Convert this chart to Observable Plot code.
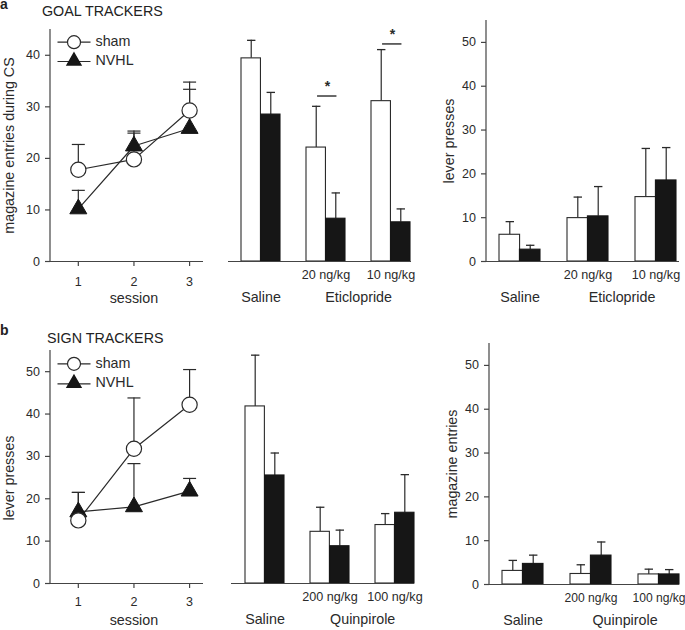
<!DOCTYPE html>
<html>
<head>
<meta charset="utf-8">
<script src="https://cdn.jsdelivr.net/npm/d3@7"></script>
<script src="https://cdn.jsdelivr.net/npm/@observablehq/plot@0.6"></script>
<style>
  body { margin: 0; background: #fff; }
  #root { position: relative; width: 685px; height: 630px; overflow: hidden;
          font-family: "Liberation Sans", Arial, Helvetica, sans-serif; color: #222; }
  .panel { position: absolute; }
  .lbl { position: absolute; white-space: nowrap; line-height: 1; }
</style>
</head>
<body>
<div id="root"></div>
<script>
// ---------------- DATA ----------------
const sessions = [1, 2, 3];
const groupNames = ["sham", "NVHL"];

// (a) Goal trackers – magazine entries during CS, by session (mean and mean+SEM)
const gtShamMean = [17.8, 19.8, 29.3];
const gtShamTop  = [22.7, 24.9, 34.8];
const gtNvhlMean = [10.2, 22.4, 25.8];
const gtNvhlTop  = [13.8, 25.3, 33.4];

// (a) Eticlopride – magazine entries
const eticGroups = ["Saline", "20 ng/kg", "10 ng/kg"];
const eticTickLabels = ["", "20 ng/kg", "10 ng/kg"];
const eticDrugLabels = ["Saline", "Eticlopride"];
const gtMagSham    = [39.4, 22.1, 31.1];
const gtMagShamTop = [42.9, 30.1, 41.1];
const gtMagNvhl    = [28.5, 8.3, 7.6];
const gtMagNvhlTop = [32.8, 13.3, 10.2];
const gtMagSigLevel = [null, 32.1, 42.2];

// (a) Eticlopride – lever presses
const gtLevSham    = [6.1, 9.9, 14.7];
const gtLevShamTop = [9.1, 14.7, 25.8];
const gtLevNvhl    = [2.7, 10.3, 18.5];
const gtLevNvhlTop = [3.7, 17.1, 26.0];

// (b) Sign trackers – lever presses by session
const stShamMean = [14.9, 31.8, 42.2];
const stShamTop  = [21.5, 43.8, 50.5];
const stNvhlMean = [16.9, 18.1, 21.8];
const stNvhlTop  = [21.5, 28.3, 24.8];

// (b) Quinpirole – lever presses
const quinGroups = ["Saline", "200 ng/kg", "100 ng/kg"];
const quinTickLabels = ["", "200 ng/kg", "100 ng/kg"];
const quinDrugLabels = ["Saline", "Quinpirole"];
const stLevSham    = [41.8, 12.2, 13.8];
const stLevShamTop = [53.9, 18.0, 16.5];
const stLevNvhl    = [25.5, 8.8, 16.7];
const stLevNvhlTop = [30.8, 12.6, 25.7];

// (b) Quinpirole – magazine entries
const stMagSham    = [3.1, 2.4, 2.3];
const stMagShamTop = [5.5, 4.5, 3.5];
const stMagNvhl    = [4.7, 6.6, 2.3];
const stMagNvhlTop = [6.7, 9.7, 3.4];

const ticks45 = [0, 10, 20, 30, 40];
const ticks55 = [0, 10, 20, 30, 40, 50];

// ---------------- STYLE ----------------
const FONT = '"Liberation Sans", Arial, Helvetica, sans-serif';
const INK = "#2a2a2a";
const AX = "#444";
const BLACK = "#161616";
const LABEL_SIZE = 14.3;

const capSymbol = {
  draw(ctx, size) { const r = Math.sqrt(size / Math.PI); ctx.moveTo(-r, 0); ctx.lineTo(r, 0); }
};

function leftAxisLine(index, scales, values, dimensions) {
  const {marginLeft, marginTop, height, marginBottom} = dimensions;
  const l = document.createElementNS("http://www.w3.org/2000/svg", "line");
  l.setAttribute("x1", marginLeft); l.setAttribute("x2", marginLeft);
  l.setAttribute("y1", marginTop); l.setAttribute("y2", height - marginBottom);
  l.setAttribute("stroke", AX); l.setAttribute("stroke-width", 1.2);
  return l;
}

function baseStyle() {
  return {fontFamily: FONT, fontSize: "12.5px", color: INK, background: "transparent", overflow: "visible"};
}

function yTitle(text, dx, dy) {
  return Plot.text([text], {frameAnchor: "left", rotate: -90, dx, dy: dy || 0, text: d => d,
    textAnchor: "middle", lineAnchor: "middle", fontSize: LABEL_SIZE});
}

function linePanel(o) {
  const rows = (m, t) => sessions.map((s, i) => ({session: s, mean: m[i], top: t[i]}));
  const sham = rows(o.shamMean, o.shamTop);
  const nvhl = rows(o.nvhlMean, o.nvhlTop);
  const both = [...nvhl, ...sham];
  const marks = [
    Plot.axisY({ticks: o.yTicks, tickSize: 5, tickPadding: 5.5, label: null, stroke: AX, strokeWidth: 1.2}),
    Plot.axisX({ticks: sessions, tickSize: 5, tickPadding: o.xTickPadding, label: null, tickFormat: d3.format("d"), stroke: AX, strokeWidth: 1.2}),
    leftAxisLine,
    Plot.ruleY([0], {stroke: AX, strokeWidth: 1.2}),
    yTitle(o.yLabel, o.yLabelDx, o.yLabelDy),
    Plot.text([{label: "session", at: d3.median(sessions)}], {x: "at", text: "label", frameAnchor: "bottom",
      lineAnchor: "middle", textAnchor: "middle", dy: 36.5, fontSize: LABEL_SIZE}),
    Plot.ruleX(both, {x: "session", y1: "mean", y2: "top", stroke: INK, strokeWidth: 1.2}),
    Plot.dot(both, {x: "session", y: "top", symbol: capSymbol, r: 6.5, stroke: INK, strokeWidth: 1.2}),
    Plot.line(sham, {x: "session", y: "mean", stroke: INK, strokeWidth: 1.2}),
    Plot.line(nvhl, {x: "session", y: "mean", stroke: INK, strokeWidth: 1.2}),
    Plot.dot(nvhl, {x: "session", y: "mean", symbol: "triangle", r: 6.3, fill: BLACK, stroke: BLACK, strokeWidth: 1}),
    Plot.dot(sham, {x: "session", y: "mean", symbol: "circle", r: 7.6, fill: "white", stroke: INK, strokeWidth: 1.2}),
    // legend
    Plot.dot([groupNames[0]], {frameAnchor: "top-left", dx: 23.5, dy: o.legDy[0], symbol: capSymbol, r: 16.5, stroke: INK, strokeWidth: 1.2}),
    Plot.dot([groupNames[0]], {frameAnchor: "top-left", dx: 23.5, dy: o.legDy[0], symbol: "circle", r: 6.5, fill: "white", stroke: INK, strokeWidth: 1.2}),
    Plot.dot([groupNames[1]], {frameAnchor: "top-left", dx: 23.5, dy: o.legDy[1], symbol: capSymbol, r: 16.5, stroke: INK, strokeWidth: 1.2}),
    Plot.dot([groupNames[1]], {frameAnchor: "top-left", dx: 23.5, dy: o.legDy[1] - 0.5, symbol: "triangle", r: 5.1, fill: BLACK, stroke: BLACK}),
    Plot.text([groupNames[0]], {frameAnchor: "top-left", dx: 45, dy: o.legDy[0] - 0.5, text: d => d,
      textAnchor: "start", lineAnchor: "middle", fontSize: LABEL_SIZE}),
    Plot.text([groupNames[1]], {frameAnchor: "top-left", dx: 45, dy: o.legDy[1] - 1.5, text: d => d,
      textAnchor: "start", lineAnchor: "middle", fontSize: LABEL_SIZE})
  ];
  return Plot.plot({
    width: o.width, height: o.height,
    marginTop: o.m[0], marginRight: o.m[1], marginBottom: o.m[2], marginLeft: o.m[3],
    style: baseStyle(),
    x: {type: "linear", domain: [0.5, 3.25]},
    y: {domain: o.yDomain},
    marks
  });
}

function barPanel(o) {
  const n = o.groups.length, pi = 0.4;
  const step = (o.range[1] - o.range[0]) / (n - pi);
  const band = step * (1 - pi);
  const barW = band / 2;
  const rows = (v, t) => o.groups.map((g, i) => ({group: g, value: v[i], top: t[i]}));
  const sham = rows(o.sham, o.shamTop);
  const nvhl = rows(o.nvhl, o.nvhlTop);
  const sig = o.sig ? o.groups.map((g, i) => ({group: g, level: o.sig[i]})).filter(d => d.level != null) : [];
  const tickLab = new Map(o.groups.map((g, i) => [g, o.tickLabels[i]]));
  const marks = [
    o.yTicks ? Plot.axisY({ticks: o.yTicks, tickSize: 5, tickPadding: 5.5, label: null, stroke: AX, strokeWidth: 1.2}) : null,
    o.yTicks ? leftAxisLine : null,
    o.yLabel ? yTitle(o.yLabel, o.yLabelDx, 0) : null,
    Plot.axisX({tickSize: 0, tickPadding: 9, tickFormat: d => tickLab.get(d), label: null, fontSize: o.tickFont || 12.6}),
    Plot.ruleX(sham, {x: "group", y1: "value", y2: "top", dx: -barW / 2, stroke: INK, strokeWidth: 1.2}),
    Plot.dot(sham, {x: "group", y: "top", dx: -barW / 2, symbol: capSymbol, r: 4.2, stroke: INK, strokeWidth: 1.3}),
    Plot.ruleX(nvhl, {x: "group", y1: "value", y2: "top", dx: barW / 2, stroke: INK, strokeWidth: 1.2}),
    Plot.dot(nvhl, {x: "group", y: "top", dx: barW / 2, symbol: capSymbol, r: 4.2, stroke: INK, strokeWidth: 1.3}),
    Plot.barY(sham, {x: "group", y: "value", insetRight: barW, fill: "white", stroke: INK, strokeWidth: 1.1}),
    Plot.barY(nvhl, {x: "group", y: "value", insetLeft: barW, fill: BLACK, stroke: BLACK, strokeWidth: 1.1}),
    Plot.ruleY([0], {stroke: AX, strokeWidth: 1.2}),
    Plot.tickY(sig, {x: "group", y: "level", insetLeft: band / 2 - 8.5, insetRight: band / 2 - 11, stroke: INK, strokeWidth: 1.4}),
    Plot.text(sig, {x: "group", y: "level", dx: 1.5, dy: -9, text: d => "*", fontSize: 14, fontWeight: "bold"}),
    Plot.text([o.drugLabels[0]], {x: () => o.groups[0], text: d => d, frameAnchor: "bottom",
      lineAnchor: "middle", dy: 35.5, fontSize: LABEL_SIZE}),
    Plot.text([o.drugLabels[1]], {x: () => o.groups[1], text: d => d, frameAnchor: "bottom",
      lineAnchor: "middle", dx: step / 2, dy: 35.5, fontSize: LABEL_SIZE})
  ].filter(Boolean);
  return Plot.plot({
    width: o.width, height: o.height,
    marginTop: o.m[0], marginRight: o.m[1], marginBottom: o.m[2], marginLeft: o.m[3],
    style: baseStyle(),
    x: {type: "band", domain: o.groups, range: o.range, paddingInner: pi, paddingOuter: 0},
    y: o.yTicks ? {domain: o.yDomain} : {domain: o.yDomain, axis: null},
    marks
  });
}

// ---------------- LAYOUT ----------------
const root = document.getElementById("root");
function place(node, left, top) {
  const d = document.createElement("div");
  d.className = "panel";
  d.style.left = left + "px"; d.style.top = top + "px";
  d.appendChild(node);
  root.appendChild(d);
}
function label(text, left, top, size, weight, lineHeight) {
  const d = document.createElement("div");
  d.className = "lbl";
  d.textContent = text;
  d.style.left = left + "px"; d.style.top = top + "px";
  d.style.fontSize = size + "px";
  if (weight) d.style.fontWeight = weight;
  if (lineHeight) d.style.lineHeight = lineHeight;
  root.appendChild(d);
}

place(linePanel({
  width: 215, height: 310, m: [29, 12, 49, 50], yDomain: [0, 45], yTicks: ticks45,
  shamMean: gtShamMean, shamTop: gtShamTop, nvhlMean: gtNvhlMean, nvhlTop: gtNvhlTop,
  yLabel: "magazine entries during CS", yLabelDx: -41, xTickPadding: 10.5, legDy: [12.7, 32]
}), 0, 0);

place(barPanel({
  width: 205, height: 310, m: [29, 9, 49, 13], yDomain: [0, 45], range: [26, 195.5],
  groups: eticGroups, tickLabels: eticTickLabels, drugLabels: eticDrugLabels,
  sham: gtMagSham, shamTop: gtMagShamTop, nvhl: gtMagNvhl, nvhlTop: gtMagNvhlTop, sig: gtMagSigLevel
}), 215, 0);

place(barPanel({
  width: 245, height: 310, m: [20, 6, 49, 46], yDomain: [0, 55], yTicks: ticks55, range: [59, 236],
  groups: eticGroups, tickLabels: eticTickLabels, drugLabels: eticDrugLabels,
  sham: gtLevSham, shamTop: gtLevShamTop, nvhl: gtLevNvhl, nvhlTop: gtLevNvhlTop,
  yLabel: "lever presses", yLabelDx: -37.5
}), 440, 0);

place(linePanel({
  width: 215, height: 320, m: [40, 12, 47, 50], yDomain: [0, 55], yTicks: ticks55,
  shamMean: stShamMean, shamTop: stShamTop, nvhlMean: stNvhlMean, nvhlTop: stNvhlTop,
  yLabel: "lever presses", yLabelDx: -41, yLabelDy: 11, xTickPadding: 9, legDy: [13.3, 33.3]
}), 0, 310);

place(barPanel({
  width: 205, height: 320, m: [40, 6, 47, 16], yDomain: [0, 55], range: [29, 199],
  groups: quinGroups, tickLabels: quinTickLabels, drugLabels: quinDrugLabels,
  sham: stLevSham, shamTop: stLevShamTop, nvhl: stLevNvhl, nvhlTop: stLevNvhlTop
}), 215, 310);

place(barPanel({
  width: 245, height: 320, m: [33, 6, 46, 49], yDomain: [0, 55], yTicks: ticks55, range: [62, 239],
  groups: quinGroups, tickLabels: quinTickLabels, drugLabels: quinDrugLabels,
  sham: stMagSham, shamTop: stMagShamTop, nvhl: stMagNvhl, nvhlTop: stMagNvhlTop,
  yLabel: "magazine entries", yLabelDx: -37, tickFont: 12.1
}), 440, 310);

label("a", 0, 0, 14, "bold", 0.6);
label("GOAL TRACKERS", 42, 4, LABEL_SIZE);
label("b", 0, 323, 14, "bold");
label("SIGN TRACKERS", 47, 331, LABEL_SIZE);
</script>
</body>
</html>
